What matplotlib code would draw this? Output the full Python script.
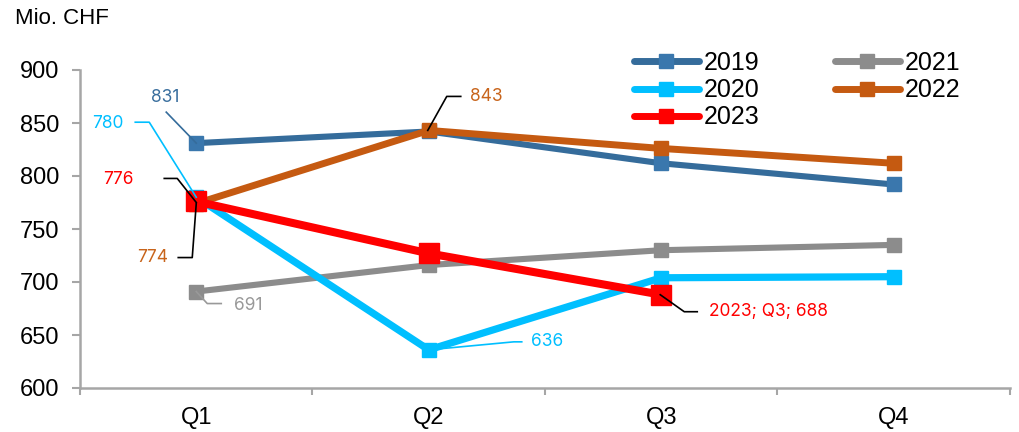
import numpy as np
import matplotlib
matplotlib.use("Agg")
import matplotlib.pyplot as plt
import matplotlib.transforms as mtransforms
from matplotlib.lines import Line2D

plt.rcParams["font.family"] = ["Liberation Sans", "DejaVu Sans"]

quarters = ["Q1", "Q2", "Q3", "Q4"]
years = ["2019", "2020", "2021", "2022", "2023"]
v2019 = [831, 842, 812, 792]
v2020 = [780, 636, 704, 705]
v2021 = [691, 716, 730, 735]
v2022 = [774, 843, 826, 812]
v2023 = [776, 727, 688]
series = dict(zip(years, [v2019, v2020, v2021, v2022, v2023]))

# line colour, marker colour, line width (pt), marker size (pt), zorder
style = {
    "2019": ("#356c9b", "#3a77ad", 4.4, 10.5, 3),
    "2020": ("#00bfff", "#00bfff", 5.2, 10.5, 4),
    "2021": ("#8c8c8c", "#8c8c8c", 4.4, 10.5, 2),
    "2022": ("#c55a11", "#c55a11", 5.0, 10.5, 5),
    "2023": ("#ff0000", "#ff0000", 5.8, 14.5, 6),
}
axis_grey = "#a6a6a6"

fig = plt.figure(figsize=(10.2, 4.32), dpi=100)
ax = fig.add_axes([80 / 1020, 44 / 432, 930 / 1020, 318 / 432])

x = np.arange(len(quarters))
for yr in years:
    vals = series[yr]
    lc, mc, lw, ms, z = style[yr]
    ax.plot(x[:len(vals)], vals, color=lc, lw=lw, marker="s", ms=ms,
            mfc=mc, mec=mc, zorder=z)

ax.set_xlim(-0.5, 3.5)
ax.set_ylim(600, 900)
ax.set_yticks(range(600, 901, 50))
ax.set_xticks(x)
ax.set_xticklabels(quarters)
ax.set_xticks(np.arange(-0.5, 4, 1), minor=True)
ax.tick_params(axis="x", which="major", length=0, pad=14, labelsize=17)
ax.tick_params(axis="x", which="minor", length=5, width=1.5, color=axis_grey)
ax.tick_params(axis="y", length=6, width=1.5, color=axis_grey, pad=9, labelsize=17)
for side in ("top", "right"):
    ax.spines[side].set_visible(False)
for side in ("left", "bottom"):
    ax.spines[side].set_color(axis_grey)
    ax.spines[side].set_linewidth(1.8)

fig.text(15 / 1020, 1 - 18 / 432, "Mio. CHF", va="center", ha="left", fontsize=16)

# legend: column one 2019/2020/2023, column two 2021/2022
order = ["2019", "2020", "2023", "2021", "2022"]
handles = [Line2D([], [], color=style[y][0], lw=5, marker="s", ms=9.5,
                  mfc=style[y][1], mec=style[y][1], solid_capstyle="round")
           for y in order]
ax.legend(handles, order, ncol=2, frameon=False, fontsize=18,
          loc="upper left", bbox_to_anchor=(634 / 1020, 1 - 51 / 432),
          bbox_transform=fig.transFigure, borderpad=0, borderaxespad=0,
          handlelength=2.6, handletextpad=0.2, columnspacing=3.0,
          labelspacing=0.13)


def pixel_trans(xv, yv):
    # pixel offsets (dpi 100) anchored at a data point
    return (mtransforms.Affine2D().scale(1 / 100) + fig.dpi_scale_trans
            + mtransforms.ScaledTranslation(xv, yv, ax.transData))


# (year, quarter index, text, text colour, text offset px, leader pts px, leader colour, ha)
labels = [
    ("2019", 0, "831", "#3a6f9e", (-31, 46), [(-30, 31), (0, 0)], "#356c9b", "center"),
    ("2020", 0, "780", "#00bfff", (-88, 74), [(-61, 75), (-47, 75), (0, 0)], "#00bfff", "center"),
    ("2023", 0, "776", "#ff0000", (-78, 22), [(-32, 23), (-19, 23), (0, -1)], "black", "center"),
    ("2022", 0, "774", "#c8641b", (-44, -54), [(-18, -54), (-4, -54), (0, 0)], "black", "center"),
    ("2021", 0, "691", "#999999", (52, -14), [(0, 0), (11, -12), (25, -12)], "#999999", "center"),
    ("2022", 1, "843", "#c8641b", (58, 34), [(-1, 0), (18, 34), (32, 34)], "black", "center"),
    ("2020", 1, "636", "#00bfff", (118, 8), [(0, 0), (85, 8), (93, 8)], "#00bfff", "center"),
    ("2023", 2, "2023; Q3; 688", "#ff0000", (48, -17), [(-1, 0), (23, -17), (36, -17)], "black", "left"),
]
for yr, qi, txt, tc, (dx, dy), pts, lcol, ha in labels:
    yv = series[yr][qi]
    ax.annotate(txt, xy=(qi, yv), xytext=(dx, dy), textcoords="offset pixels",
                ha=ha, va="center", color=tc, fontsize=12.5,
                family=["Inter", "DejaVu Sans"], zorder=10)
    ax.add_line(Line2D([p[0] for p in pts], [p[1] for p in pts], color=lcol,
                       lw=1.2, transform=pixel_trans(qi, yv), zorder=9))

fig.savefig("out.png", dpi=100)
